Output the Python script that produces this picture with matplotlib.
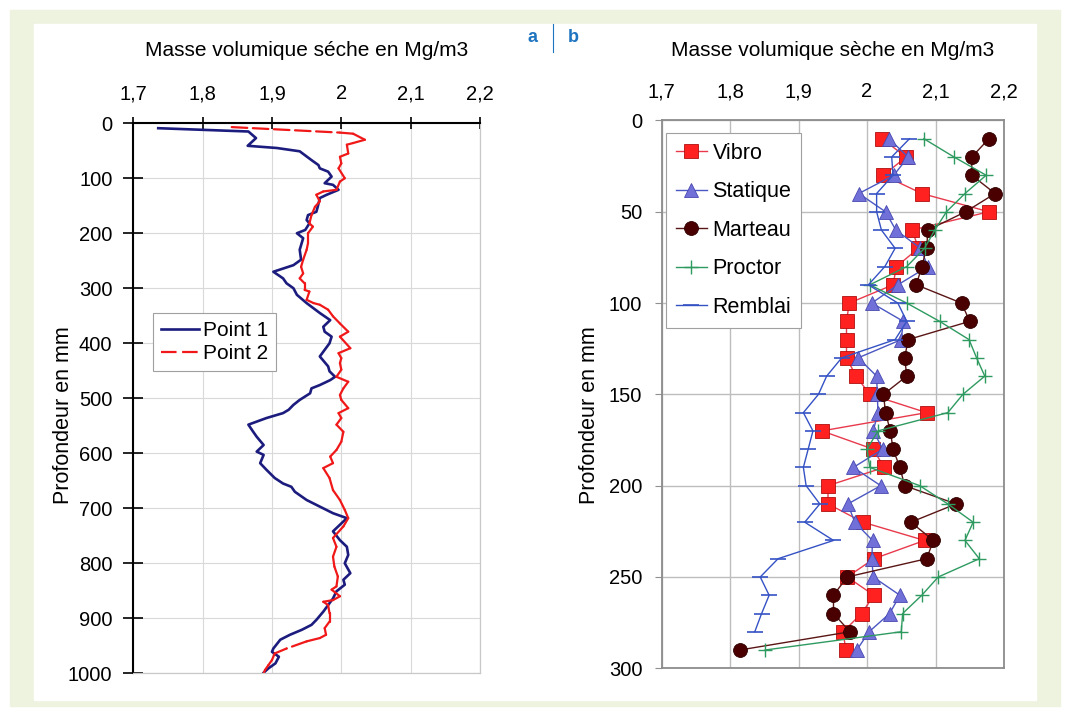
import matplotlib
matplotlib.use("Agg")
import matplotlib.pyplot as plt
from matplotlib.collections import LineCollection
from matplotlib.lines import Line2D
from matplotlib.patches import Rectangle
from matplotlib.ticker import FixedLocator, FuncFormatter

plt.rcParams["font.family"] = ["Liberation Sans", "DejaVu Sans"]

# --- panel a : continuous profiles (density, depth mm) ---
p1_dens = [1.736, 1.866, 1.877, 1.865, 1.907, 1.940, 1.957, 1.967, 1.969, 1.981, 1.986, 1.976,
           1.988, 1.996, 1.979, 1.969, 1.966, 1.964, 1.952, 1.950, 1.954, 1.948, 1.936, 1.945,
           1.940, 1.942, 1.931, 1.902, 1.916, 1.921, 1.931, 1.936, 1.950, 1.969, 1.984, 1.974,
           1.976, 1.986, 1.983, 1.976, 1.969, 1.973, 1.981, 1.983, 1.991, 1.984, 1.969, 1.957,
           1.955, 1.940, 1.931, 1.924, 1.916, 1.892, 1.866, 1.873, 1.878, 1.888, 1.878, 1.888,
           1.885, 1.883, 1.892, 1.904, 1.916, 1.928, 1.933, 1.950, 1.969, 1.988, 2.008, 1.998,
           1.988, 1.998, 2.008, 2.010, 2.005, 2.013, 2.003, 2.005, 1.993, 1.988, 1.981, 1.974,
           1.964, 1.957, 1.943, 1.926, 1.912, 1.902, 1.900, 1.910, 1.905, 1.895, 1.888]
p1_depth = [9, 15, 27, 41, 45, 51, 67, 76, 82, 88, 97, 109,
            112, 121, 130, 136, 152, 161, 167, 176, 182, 194, 200, 209,
            230, 248, 258, 270, 282, 291, 300, 312, 327, 345, 358, 370,
            379, 388, 400, 412, 424, 430, 442, 451, 461, 467, 476, 482,
            491, 503, 512, 521, 527, 536, 548, 561, 570, 585, 597, 603,
            612, 618, 630, 645, 655, 661, 670, 685, 697, 709, 718, 730,
            742, 758, 770, 785, 800, 818, 830, 839, 851, 864, 876, 888,
            903, 912, 921, 930, 939, 955, 961, 970, 982, 991, 999]

p2_dens = [1.842, 1.998, 2.017, 2.034, 2.017, 2.008, 2.010, 1.998, 2.000, 1.996, 2.005, 1.998,
           1.993, 1.974, 1.964, 1.969, 1.962, 1.957, 1.954, 1.959, 1.952, 1.952, 1.950, 1.945,
           1.942, 1.945, 1.940, 1.947, 1.947, 1.954, 1.950, 1.960, 1.969, 1.981, 1.988, 1.998,
           2.010, 1.998, 2.013, 1.996, 2.000, 1.998, 2.000, 1.993, 2.010, 2.003, 1.998, 2.000,
           2.010, 1.996, 2.000, 1.993, 2.003, 2.000, 1.993, 1.984, 1.988, 1.974, 1.983, 1.988,
           1.998, 2.005, 2.010, 2.003, 1.988, 1.993, 1.988, 1.990, 1.995, 1.993, 1.986, 1.998,
           1.988, 1.974, 1.981, 1.983, 1.983, 1.976, 1.978, 1.969, 1.950, 1.921, 1.904, 1.900,
           1.895, 1.890, 1.888]
p2_depth = [7, 17, 19, 30, 36, 39, 55, 61, 73, 82, 100, 106,
            121, 124, 130, 142, 152, 167, 182, 188, 200, 218, 230, 248,
            261, 273, 282, 291, 303, 306, 321, 327, 330, 339, 351, 364,
            379, 388, 409, 418, 427, 436, 448, 461, 470, 482, 494, 503,
            518, 527, 536, 548, 561, 579, 594, 606, 618, 627, 645, 667,
            685, 703, 718, 733, 754, 770, 788, 806, 824, 842, 848, 860,
            867, 870, 876, 891, 906, 918, 930, 936, 942, 955, 964, 976,
            985, 994, 1000]

# --- panel b : compaction methods, one value every 10 mm ---
depth_b = [10, 20, 30, 40, 50, 60, 70, 80, 90, 100, 110, 120, 130, 140, 150,
           160, 170, 180, 190, 200, 210, 220, 230, 240, 250, 260, 270, 280, 290]
vibro = [2.022, 2.057, 2.024, 2.080, 2.178, 2.066, 2.075, 2.043, 2.038, 1.974, 1.970, 1.970,
         1.970, 1.984, 2.004, 2.087, 1.934, 2.009, 2.025, 1.943, 1.943, 1.994, 2.084, 2.010,
         1.971, 2.010, 1.992, 1.965, 1.969]
statique = [2.032, 2.060, 2.039, 1.988, 2.027, 2.042, 2.078, 2.089, 2.045, 2.007, 2.053, 2.050,
            1.987, 2.014, 2.015, 2.016, 2.009, 2.023, 1.980, 2.020, 1.972, 1.982, 2.008, 2.007,
            2.009, 2.048, 2.033, 2.003, 1.985]
marteau = [2.178, 2.153, 2.153, 2.187, 2.144, 2.089, 2.087, 2.080, 2.072, 2.138, 2.150, 2.060,
           2.055, 2.058, 2.024, 2.027, 2.034, 2.038, 2.048, 2.055, 2.130, 2.064, 2.097, 2.087,
           1.971, 1.951, 1.951, 1.975, 1.814]
proctor = [2.083, 2.127, 2.174, 2.143, 2.116, 2.099, 2.084, 2.058, 2.004, 2.058, 2.106, 2.149,
           2.160, 2.172, 2.140, 2.118, 2.016, 2.000, 2.004, 2.077, 2.118, 2.155, 2.143, 2.164,
           2.104, 2.080, 2.052, 2.050, 1.851]
remblai = [2.062, 2.036, 2.038, 2.014, 2.014, 2.021, 2.041, 2.026, 2.002, 2.045, 2.058, 2.041,
           1.963, 1.941, 1.929, 1.907, 1.921, 1.914, 1.907, 1.911, 1.931, 1.909, 1.951, 1.870,
           1.844, 1.857, 1.846, 1.836]

XTICKS = [1.7, 1.8, 1.9, 2.0, 2.1, 2.2]
comma = FuncFormatter(lambda v, _: f"{v:g}".replace(".", ","))

fig = plt.figure(figsize=(10.66, 7.12), dpi=100)
fig.patches.append(Rectangle((10 / 1066, 6 / 712), 1050 / 1066, 696 / 712,
                             transform=fig.transFigure, color="#eef3df", zorder=-10))
fig.patches.append(Rectangle((34 / 1066, 12 / 712), 1002 / 1066, 676 / 712,
                             transform=fig.transFigure, color="white", zorder=-9))

# ---------- a ----------
ax = fig.add_axes([0.125, 0.0544, 0.3253, 0.7725])
ax.plot(p1_dens, p1_depth, color="#1c1c7e", lw=1.9, solid_joinstyle="round")
# Excel-style dashes: pattern restarts on every segment, so short steps look solid
segs = [[(p2_dens[i], p2_depth[i]), (p2_dens[i + 1], p2_depth[i + 1])] for i in range(len(p2_dens) - 1)]
lc = LineCollection(segs, colors="#f01818", linewidths=1.6, linestyles=[(0, (7, 2.5))])
lc.set_capstyle("round")
ax.add_collection(lc)
ax.set_xlim(1.7, 2.2)
ax.set_ylim(1000, 0)
ax.xaxis.set_major_locator(FixedLocator(XTICKS))
ax.xaxis.set_major_formatter(comma)
ax.yaxis.set_major_locator(FixedLocator(range(0, 1001, 100)))
ax.xaxis.tick_top()
ax.tick_params(axis="x", direction="inout", length=9, width=1.2, pad=10, labelsize=14.5)
ax.tick_params(axis="y", direction="inout", length=14, width=1.2, pad=8, labelsize=14.5)
ax.grid(color="#d9d9d9", lw=0.8)
for s in ("left", "top"):
    ax.spines[s].set_linewidth(1.5)
for s in ("right", "bottom"):
    ax.spines[s].set_color("#c8c8c8")
    ax.spines[s].set_linewidth(0.9)
ax.set_ylabel("Profondeur en mm", fontsize=15.5)
ax.yaxis.set_label_coords(-0.172, 0.47)
h1 = Line2D([], [], color="#1c1c7e", lw=1.9)
h2 = Line2D([], [], color="#f01818", lw=1.6, ls=(0, (7, 2.5)))
leg = ax.legend([h1, h2], ["Point 1", "Point 2"], loc="upper left", bbox_to_anchor=(0.057, 0.655),
                borderaxespad=0, fontsize=15, frameon=True, fancybox=False, framealpha=1,
                edgecolor="#a0a0a0", handlelength=1.8, handletextpad=0.2, labelspacing=0.2,
                borderpad=0.39)
leg.get_frame().set_linewidth(0.8)
fig.text(307 / 1066, 1 - 50 / 712, "Masse volumique séche en Mg/m3", ha="center", va="center", fontsize=15)

# ---------- b ----------
bx = fig.add_axes([0.6207, 0.0614, 0.3211, 0.7694])
bx.plot(vibro, depth_b, color="#e83a4c", lw=1.0, marker="s", ms=9.5, mfc="#ff2020",
        mec="#b01010", mew=0.6, label="Vibro")
bx.plot(statique, depth_b, color="#4b57c2", lw=1.0, marker="^", ms=10.5, mfc="#7070d8",
        mec="#4848b0", mew=0.6, label="Statique")
bx.plot(marteau, depth_b, color="#5a1515", lw=1.0, marker="o", ms=10, mfc="#4a0000",
        mec="#300000", mew=0.6, label="Marteau")
bx.plot(proctor, depth_b, color="#2e9a60", lw=1.0, marker="+", ms=10, mew=1.0, label="Proctor")
bx.plot(remblai, depth_b[:len(remblai)], color="#3552c4", lw=1.0, marker="_", ms=11, mew=1.2,
        label="Remblai")
bx.set_xlim(1.7, 2.2)
bx.set_ylim(300, 0)
bx.xaxis.set_major_locator(FixedLocator(XTICKS))
bx.xaxis.set_major_formatter(comma)
bx.yaxis.set_major_locator(FixedLocator(range(0, 301, 50)))
bx.xaxis.tick_top()
bx.tick_params(axis="x", length=0, pad=14, labelsize=14.5)
bx.tick_params(axis="y", direction="out", length=5, color="#909090", pad=9, labelsize=14.5)
bx.grid(color="#bdbdbd", lw=1.0)
for s in bx.spines.values():
    s.set_color("#8c8c8c")
    s.set_linewidth(1.3)
bx.set_ylabel("Profondeur en mm", fontsize=15.5)
bx.yaxis.set_label_coords(-0.18, 0.462)
leg2 = bx.legend(loc="upper left", bbox_to_anchor=(0.0126, 0.977), borderaxespad=0, fontsize=15.5,
                 frameon=True, fancybox=False, framealpha=1, edgecolor="#a0a0a0",
                 handlelength=1.45, handletextpad=0.25, labelspacing=0.81, borderpad=0.46)
leg2.get_frame().set_linewidth(0.8)
fig.text(833 / 1066, 1 - 50 / 712, "Masse volumique sèche en Mg/m3", ha="center", va="center", fontsize=15)

# panel letters
fig.text(533 / 1066, 1 - 37 / 712, "a", color="#1f74c0", fontsize=13, fontweight="bold",
         ha="center", va="center")
fig.text(573 / 1066, 1 - 37 / 712, "b", color="#1f74c0", fontsize=13, fontweight="bold",
         ha="center", va="center")
fig.add_artist(Line2D([553 / 1066, 553 / 1066], [1 - 24 / 712, 1 - 52 / 712],
                      transform=fig.transFigure, color="#1f74c0", lw=0.8))

fig.savefig("out.png", dpi=100)
